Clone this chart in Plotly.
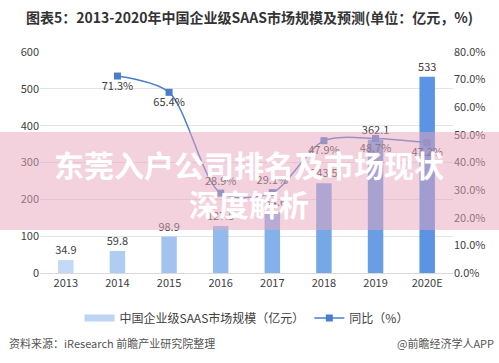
import plotly.graph_objects as go

years = ["2013", "2014", "2015", "2016", "2017", "2018", "2019", "2020E"]
market_size = [34.9, 59.8, 98.9, 127.5, 164.6, 243.5, 362.1, 533]
growth = [None, 71.3, 65.4, 28.9, 29.1, 47.9, 48.7, 47.2]
growth_pos = ["bottom center", "bottom center", "bottom center", "top center",
              "top center", "bottom center", "bottom center", "bottom center"]
bar_colors = ["#C3D9F5", "#AFCCF2", "#A2C3EF", "#93BAEC", "#85B1EA", "#76A7E7", "#699EE5", "#5A94E2"]
left_ticks = [0, 100, 200, 300, 400, 500, 600]
right_ticks = [0, 10, 20, 30, 40, 50, 60, 70, 80]
right_labels = [f"{v:.1f}%" for v in right_ticks]

W, H = 499, 363
L, R, T, B = 40, 46, 52, 90
ph = H - T - B
pw = W - L - R

def py(pix):
    return (H - B - pix) / ph

def px(pix):
    return (pix - L) / pw

font = "Noto Sans CJK SC, Noto Sans, sans-serif"

fig = go.Figure()
fig.add_trace(go.Bar(
    x=years, y=market_size, name="中国企业级SAAS市场规模（亿元）",
    marker=dict(color=bar_colors, line=dict(width=0)),
    text=[f"{v:g}" for v in market_size], textposition="outside",
    textfont=dict(size=11, color="#404040"), cliponaxis=False, constraintext="none",
    width=0.3, yaxis="y", showlegend=False,
))
# legend swatch for the bars (wide band, as in the reference)
fig.add_trace(go.Scatter(
    x=[None], y=[None], name="中国企业级SAAS市场规模（亿元）", mode="lines",
    line=dict(color="#BDD5F3", width=7), yaxis="y",
))
fig.add_trace(go.Scatter(
    x=years, y=growth, name="同比（%）", yaxis="y2",
    mode="lines+markers+text",
    line=dict(color="#4A7EC9", width=1.5, shape="spline", smoothing=0.8),
    marker=dict(symbol="square", size=7, color="#4A7EC9"),
    text=[f"{v:.1f}%" if v is not None else "" for v in growth],
    textposition=growth_pos, textfont=dict(size=11, color="#404040"),
    cliponaxis=False,
))

fig.update_layout(
    width=W, height=H, margin=dict(l=L, r=R, t=T, b=B),
    paper_bgcolor="white", plot_bgcolor="white",
    font=dict(family=font, size=11, color="#404040"),
    showlegend=True,
    legend=dict(orientation="h", x=0.5, xanchor="center", y=py(318), yanchor="middle",
                font=dict(size=12, color="#404040"), traceorder="normal",
                bgcolor="rgba(0,0,0,0)"),
    xaxis=dict(type="category", showgrid=False, showline=True, linecolor="#D9D9D9",
               ticks="", tickfont=dict(size=11, color="#404040")),
    yaxis=dict(range=[0, 600], tickvals=left_ticks, showgrid=True, gridcolor="#E3E3E3",
               zeroline=False, showline=False, ticks="", tickfont=dict(size=11, color="#404040")),
    yaxis2=dict(range=[0, 80], tickvals=right_ticks, ticktext=right_labels, overlaying="y",
                side="right", showgrid=False, zeroline=False, showline=False,
                tickfont=dict(size=11, color="#404040")),
    bargap=0.7,
)

fig.add_annotation(text="<b>图表5：2013-2020年中国企业级SAAS市场规模及预测(单位：亿元，%)</b>",
                   xref="paper", yref="paper", x=px(24), y=py(17),
                   xanchor="left", yanchor="middle", showarrow=False,
                   font=dict(size=14, color="#333333"))
fig.add_annotation(text="资料来源：iResearch 前瞻产业研究院整理",
                   xref="paper", yref="paper", x=px(7), y=py(343),
                   xanchor="left", yanchor="middle", showarrow=False,
                   font=dict(size=11, color="#555555"))
fig.add_annotation(text="@前瞻经济学人APP",
                   xref="paper", yref="paper", x=px(496), y=py(343),
                   xanchor="right", yanchor="middle", showarrow=False,
                   font=dict(size=11, color="#555555"))

# pink overlay banner
fig.add_shape(type="rect", xref="paper", yref="paper",
              x0=px(0), x1=px(W), y0=py(230), y1=py(132),
              fillcolor="rgba(232,165,190,0.5)", line=dict(width=0), layer="above")
fig.add_annotation(text="<b>东莞入户公司排名及市场现状</b>", xref="paper", yref="paper",
                   x=px(249), y=py(164), xanchor="center", yanchor="middle",
                   showarrow=False, font=dict(size=30, color="white"))
fig.add_annotation(text="<b>深度解析</b>", xref="paper", yref="paper",
                   x=px(249), y=py(203), xanchor="center", yanchor="middle",
                   showarrow=False, font=dict(size=30, color="white"))

fig.write_html("out.html", config={"displayModeBar": False},
               post_script="document.body.style.margin='0';")
